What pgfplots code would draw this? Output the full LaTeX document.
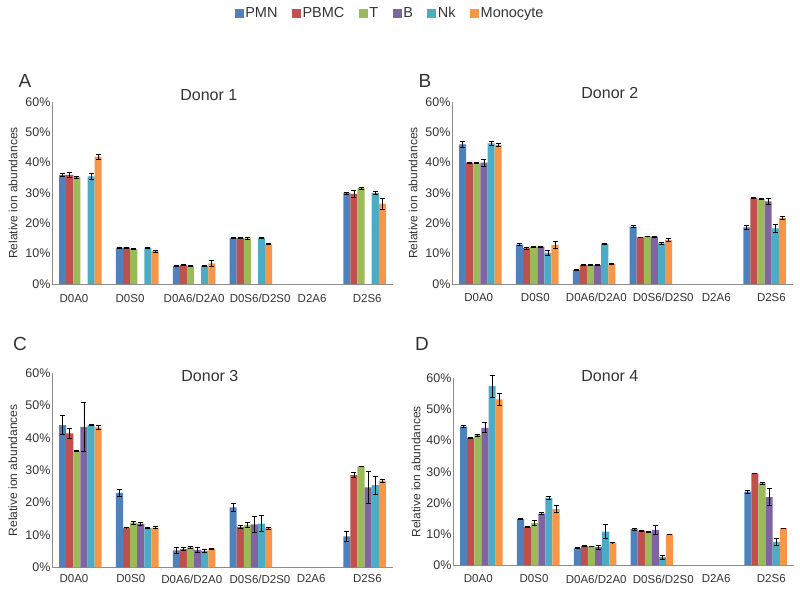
\documentclass[border=0pt]{standalone}
\usepackage{fontspec}
\setmainfont{Liberation Sans}
\usepackage{pgfplots}
\pgfplotsset{compat=1.18}
\definecolor{pmn}{HTML}{4F81BD}
\definecolor{pbmc}{HTML}{C0504D}
\definecolor{tcol}{HTML}{9BBB59}
\definecolor{bcol}{HTML}{8064A2}
\definecolor{nkcol}{HTML}{4BACC6}
\definecolor{mono}{HTML}{F79646}
\definecolor{txt}{HTML}{333333}
\definecolor{axl}{HTML}{8C8C8C}
\pgfplotsset{
  donor/.style={
    scale only axis, width=341pt,
    ymin=0, ymax=60, xmin=-0.5, xmax=5.5,
    axis x line=bottom, axis y line=left,
    axis line style={draw=axl, line width=0.8pt, -},
    major tick length=0pt,
    ytick={0,10,20,30,40,50,60},
    yticklabels={0\%,10\%,20\%,30\%,40\%,50\%,60\%},
    xticklabels={D0A0,D0S0,D0A6/D2A0,D0S6/D2S0,D2A6,D2S6},
    yticklabel style={font=\fontsize{12.5}{14}\selectfont, text=txt, xshift=2pt},
    xticklabel style={font=\fontsize{11.5}{13}\selectfont, text=txt},
    ylabel={Relative ion abundances},
    ylabel style={font=\fontsize{12}{14}\selectfont, text=txt, anchor=center},
    title style={font=\fontsize{16}{18}\selectfont, text=txt, anchor=center},
    ybar, bar width=7.1pt,
    clip=false,
    error bars/y dir=both, error bars/y explicit,
    error bars/error bar style={draw=black, line width=0.8pt},
    error bars/error mark options={draw=black, line width=0.8pt, mark size=2.5pt, rotate=90},
    legend image code/.code={\fill[##1] (0pt,-4.5pt) rectangle (9pt,4.5pt);},
  },
  s1/.style={fill=pmn, draw=none, bar shift=-17.75pt},
  s2/.style={fill=pbmc, draw=none, bar shift=-10.65pt},
  s3/.style={fill=tcol, draw=none, bar shift=-3.55pt},
  s4/.style={fill=bcol, draw=none, bar shift=3.55pt},
  s5/.style={fill=nkcol, draw=none, bar shift=10.65pt},
  s6/.style={fill=mono, draw=none, bar shift=17.75pt},
}
\begin{document}
\begin{tikzpicture}
\useasboundingbox (0,0) rectangle (800pt,592pt);
% ---------------- Donor 1 ----------------
\begin{axis}[donor, at={(52pt,308pt)}, anchor=south west, height=182pt,
  xtick={-0.113,0.873,2.0,3.162,4.077,5.046},
  xticklabel style={yshift=-7pt},
  ylabel style={at={(axis description cs:-0.114,0.5)}},
  title={Donor 1}, title style={at={(axis description cs:0.46,1.007)}}]
\addplot[s1] coordinates {(0,36.0) +- (0,0.6) (1,12.0) +- (0,0.2) (2,5.9) +- (0,0.2) (3,15.2) +- (0,0.2) (5,30.0) +- (0,0.3)};
\addplot[s2] coordinates {(0,36.0) +- (0,0.7) (1,12.0) +- (0,0.2) (2,6.2) +- (0,0.2) (3,15.2) +- (0,0.3) (5,29.7) +- (0,1.0)};
\addplot[s3] coordinates {(0,35.2) +- (0,0.3) (1,11.6) +- (0,0.1) (2,6.0) +- (0,0.1) (3,15.0) +- (0,0.4) (5,31.6) +- (0,0.3)};
\addplot[s5] coordinates {(0,35.5) +- (0,0.9) (1,12.0) +- (0,0.1) (2,6.0) +- (0,0.2) (3,15.2) +- (0,0.1) (5,30.0) +- (0,0.5)};
\addplot[s6] coordinates {(0,42.0) +- (0,0.8) (1,10.8) +- (0,0.3) (2,6.8) +- (0,1.0) (3,13.1) +- (0,0.2) (5,26.5) +- (0,1.8)};
\end{axis}
% ---------------- Donor 2 ----------------
\begin{axis}[donor, at={(452pt,308pt)}, anchor=south west, height=182pt,
  xtick={-0.03,0.967,2.04,3.217,4.15,5.12},
  xticklabel style={yshift=-6pt},
  ylabel style={at={(axis description cs:-0.114,0.5)}},
  title={Donor 2}, title style={at={(axis description cs:0.463,1.015)}},
  legend columns=6,
  legend style={at={(axis description cs:-0.182,1.489)}, anchor=center, draw=none, fill=none,
    font=\fontsize{14.5}{16}\selectfont, text=txt,
    /tikz/every even column/.append style={column sep=13pt},
    nodes={inner sep=1.5pt}}]
\addplot[s1] coordinates {(0,46.0) +- (0,1.0) (1,13.0) +- (0,0.3) (2,4.6) +- (0,0.1) (3,18.9) +- (0,0.3) (5,18.7) +- (0,0.7)};
\addplot[s2] coordinates {(0,40.0) +- (0,0.2) (1,11.8) +- (0,0.3) (2,6.2) +- (0,0.1) (3,15.4) +- (0,0.1) (5,28.4) +- (0,0.2)};
\addplot[s3] coordinates {(0,39.8) +- (0,0.2) (1,12.3) +- (0,0.1) (2,6.2) +- (0,0.1) (3,15.7) +- (0,0.1) (5,28.0) +- (0,0.2)};
\addplot[s4] coordinates {(0,40.0) +- (0,1.2) (1,12.3) +- (0,0.2) (2,6.2) +- (0,0.1) (3,15.6) +- (0,0.1) (5,27.2) +- (0,1.0)};
\addplot[s5] coordinates {(0,46.4) +- (0,0.6) (1,10.3) +- (0,0.8) (2,13.3) +- (0,0.2) (3,13.4) +- (0,0.4) (5,18.3) +- (0,1.2)};
\addplot[s6] coordinates {(0,45.9) +- (0,0.5) (1,12.9) +- (0,1.2) (2,6.6) +- (0,0.1) (3,14.5) +- (0,0.4) (5,21.7) +- (0,0.5)};
\legend{PMN,PBMC,T,B,Nk,Monocyte}
\end{axis}
% ---------------- Donor 3 ----------------
\begin{axis}[donor, at={(52pt,24.7pt)}, anchor=south west, height=194pt,
  xtick={-0.113,0.887,1.96,3.16,4.06,5.05},
  xticklabel style={yshift=-4pt},
  ylabel style={at={(axis description cs:-0.115,0.5)}},
  title={Donor 3}, title style={at={(axis description cs:0.463,0.957)}}]
\addplot[s1] coordinates {(0,44.0) +- (0,3.0) (1,23.0) +- (0,1.0) (2,5.2) +- (0,0.9) (3,18.5) +- (0,1.3) (5,9.6) +- (0,1.6)};
\addplot[s2] coordinates {(0,41.4) +- (0,1.5) (1,12.3) +- (0,0.1) (2,5.6) +- (0,0.5) (3,12.5) +- (0,0.4) (5,28.5) +- (0,0.7)};
\addplot[s3] coordinates {(0,36.0) +- (0,0.3) (1,13.8) +- (0,0.5) (2,6.2) +- (0,0.2) (3,13.1) +- (0,0.7) (5,31.2) +- (0,0.1)};
\addplot[s4] coordinates {(0,43.4) +- (0,7.6) (1,13.5) +- (0,0.5) (2,5.4) +- (0,0.9) (3,13.3) +- (0,2.5) (5,24.7) +- (0,5.0)};
\addplot[s5] coordinates {(0,44.0) +- (0,0.2) (1,12.1) +- (0,0.2) (2,5.1) +- (0,0.4) (3,13.5) +- (0,2.5) (5,25.4) +- (0,2.8)};
\addplot[s6] coordinates {(0,43.3) +- (0,0.7) (1,12.3) +- (0,0.4) (2,5.8) +- (0,0.2) (3,12.1) +- (0,0.3) (5,26.8) +- (0,0.5)};
\end{axis}
% ---------------- Donor 4 ----------------
\begin{axis}[donor, at={(453pt,26.7pt)}, anchor=south west, height=187pt,
  xtick={-0.055,0.926,2.02,3.2,4.13,5.1},
  xticklabel style={yshift=-6pt},
  ylabel style={at={(axis description cs:-0.108,0.5)}},
  title={Donor 4}, title style={at={(axis description cs:0.46,0.982)}}]
\addplot[s1] coordinates {(0,44.5) +- (0,0.4) (1,14.8) +- (0,0.2) (2,5.6) +- (0,0.3) (3,11.6) +- (0,0.3) (5,23.6) +- (0,0.5)};
\addplot[s2] coordinates {(0,40.9) +- (0,0.2) (1,12.4) +- (0,0.2) (2,6.2) +- (0,0.1) (3,11.1) +- (0,0.1) (5,29.5) +- (0,0.1)};
\addplot[s3] coordinates {(0,41.8) +- (0,0.3) (1,13.6) +- (0,0.7) (2,6.1) +- (0,0.1) (3,10.8) +- (0,0.1) (5,26.4) +- (0,0.3)};
\addplot[s4] coordinates {(0,44.1) +- (0,1.6) (1,16.6) +- (0,0.3) (2,5.8) +- (0,0.6) (3,11.4) +- (0,1.5) (5,21.9) +- (0,2.8)};
\addplot[s5] coordinates {(0,57.5) +- (0,3.5) (1,21.6) +- (0,0.6) (2,10.8) +- (0,2.3) (3,2.6) +- (0,0.6) (5,7.5) +- (0,1.2)};
\addplot[s6] coordinates {(0,53.2) +- (0,2.0) (1,18.0) +- (0,1.1) (2,7.3) +- (0,0.1) (3,9.9) +- (0,0.1) (5,11.9) +- (0,0.1)};
\end{axis}
% panel letters
\node[font=\fontsize{19}{21}\selectfont, text=txt] at (25pt,511pt) {A};
\node[font=\fontsize{19}{21}\selectfont, text=txt] at (425pt,511pt) {B};
\node[font=\fontsize{19}{21}\selectfont, text=txt] at (20pt,248pt) {C};
\node[font=\fontsize{19}{21}\selectfont, text=txt] at (422pt,248pt) {D};
\end{tikzpicture}
\end{document}
